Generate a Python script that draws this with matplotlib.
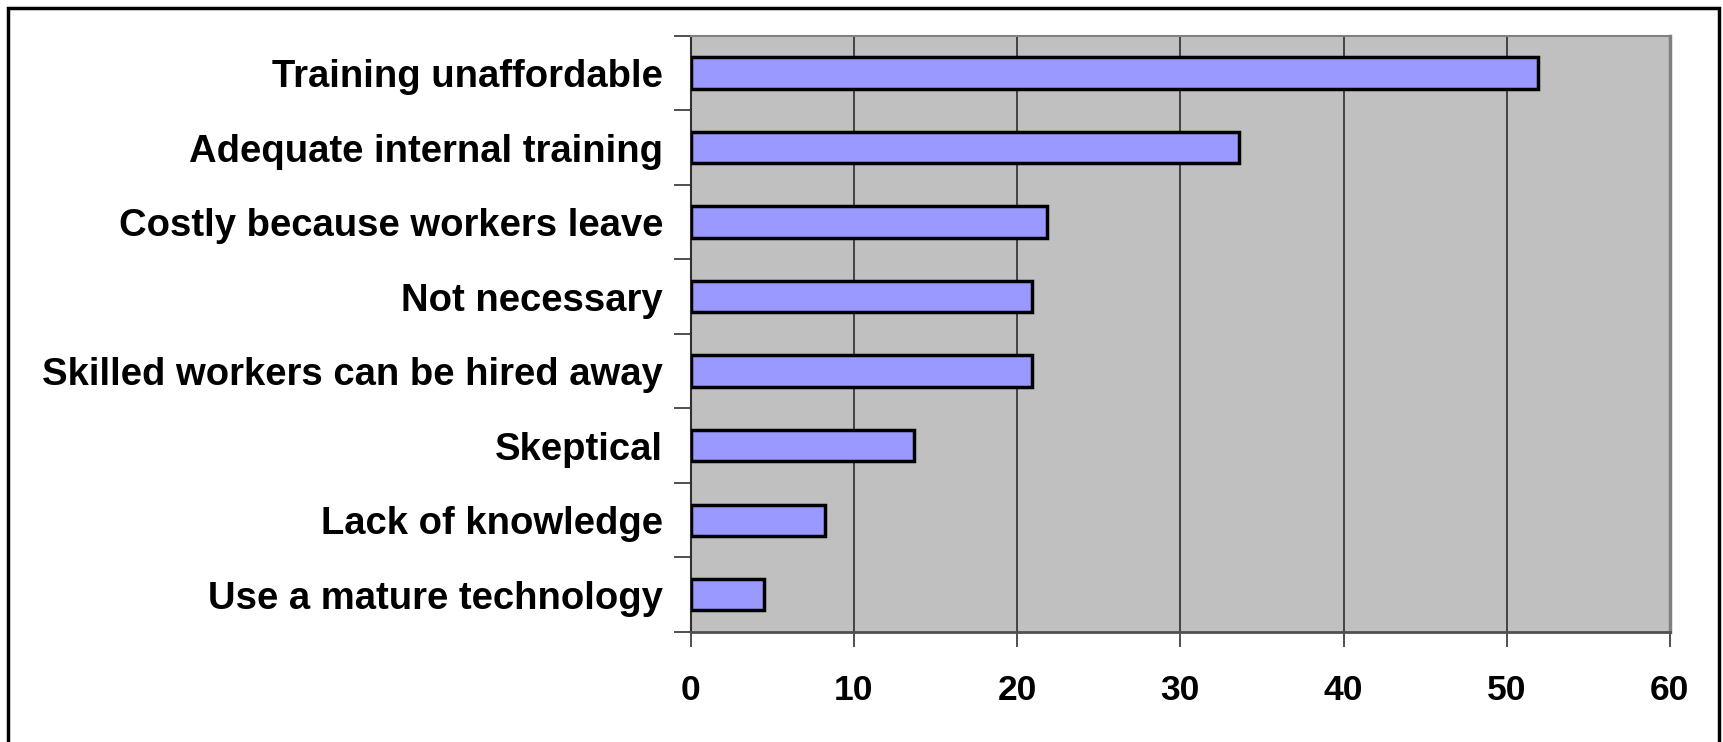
import matplotlib
matplotlib.use('Agg')
import matplotlib.pyplot as plt
from matplotlib.patches import Rectangle
import numpy as np

plt.rcParams['font.family'] = ['Liberation Sans', 'DejaVu Sans']
plt.rcParams['font.weight'] = 'bold'

reasons = ['Training unaffordable', 'Adequate internal training',
           'Costly because workers leave', 'Not necessary',
           'Skilled workers can be hired away', 'Skeptical',
           'Lack of knowledge', 'Use a mature technology']
percent = [51.9, 33.6, 21.8, 20.9, 20.9, 13.7, 8.2, 4.5]
x_ticks = [0, 10, 20, 30, 40, 50, 60]

fig = plt.figure(figsize=(17.23, 7.42), dpi=100)
ax = fig.add_axes([0.4009, 0.1482, 0.9692 - 0.4009, 0.9519 - 0.1482])
ax.set_facecolor('#C0C0C0')

y_pos = np.arange(len(reasons))
ax.barh(y_pos, percent, height=0.42, color='#9999FF',
        edgecolor='black', linewidth=2.5, zorder=3)

ax.set_xlim(0, 60)
ax.set_ylim(len(reasons) - 0.5, -0.5)

# vertical gridlines
ax.set_xticks(x_ticks)
ax.xaxis.grid(True, color='#202020', linewidth=1.1, zorder=1)
ax.set_axisbelow(True)
ax.set_xticklabels([str(t) for t in x_ticks], fontsize=25.5, fontweight='bold')
ax.tick_params(axis='x', direction='out', length=11, width=1.1,
               color='#202020', pad=19)

# category labels centered, tick marks between categories
ax.set_yticks(y_pos)
ax.set_yticklabels(reasons, fontsize=27.5, fontweight='bold')
ax.tick_params(axis='y', which='major', length=0, pad=20)
ax.set_yticks(np.arange(-0.5, len(reasons)), minor=True)
ax.tick_params(axis='y', which='minor', direction='out', length=12,
               width=1.1, color='#202020')

ax.spines['left'].set_color('#303030')
ax.spines['left'].set_linewidth(1.5)
ax.spines['bottom'].set_color('#505050')
ax.spines['bottom'].set_linewidth(2)
ax.spines['top'].set_color('#808080')
ax.spines['top'].set_linewidth(1.5)
ax.spines['right'].set_color('#808080')
ax.spines['right'].set_linewidth(2.5)

# outer frame around the chart area
fig.patches.append(Rectangle((8 / 1723, -0.05), (1719 - 8) / 1723, 1.05 - 8 / 742,
                             transform=fig.transFigure, fill=False,
                             edgecolor='black', linewidth=2.5))

fig.savefig('out.png', dpi=100)
